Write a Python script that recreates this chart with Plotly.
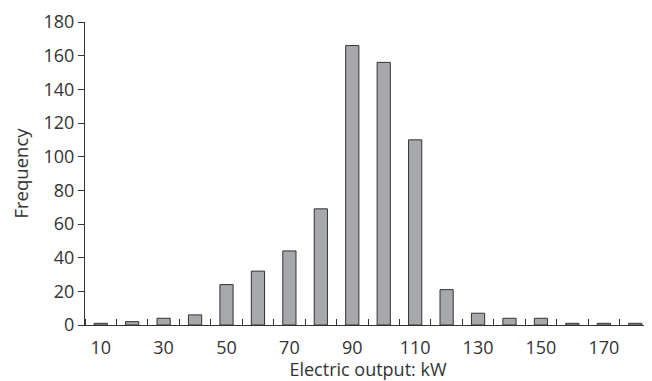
import plotly.graph_objects as go

bin_centers = [10, 20, 30, 40, 50, 60, 70, 80, 90, 100, 110, 120, 130, 140, 150, 160, 170, 180]
frequency = [1, 2, 4, 6, 24, 32, 44, 69, 166, 156, 110, 21, 7, 4, 4, 1, 1, 1]
x_tick_labels = [10, 30, 50, 70, 90, 110, 130, 150, 170]
y_tick_labels = [0, 20, 40, 60, 80, 100, 120, 140, 160, 180]

font_family = "Open Sans, DejaVu Sans, sans-serif"
text_color = "#333333"

fig = go.Figure()
fig.add_trace(go.Bar(
    x=bin_centers,
    y=frequency,
    width=[4.2] * len(bin_centers),
    marker=dict(color="#a7a8ab", line=dict(color="#333333", width=1)),
    showlegend=False,
))

# page has an 8px body margin, so the figure is 8px smaller and offset
fig.update_layout(
    width=644, height=373,
    margin=dict(l=77, r=1, t=14, b=56, autoexpand=False),
    paper_bgcolor="white", plot_bgcolor="white",
    font=dict(family=font_family, size=18, color=text_color),
)
fig.update_xaxes(
    range=[5, 185],
    tickmode="array", tickvals=x_tick_labels, ticktext=[str(v) for v in x_tick_labels],
    ticks="", showgrid=False, zeroline=False,
    showline=True, linecolor="#333333", linewidth=1,
    minor=dict(tick0=15, dtick=10, ticks="inside", ticklen=6, tickcolor="#333333", tickwidth=1, showgrid=False),
    title=dict(text="Electric output: kW", font=dict(size=18), standoff=3),
    tickfont=dict(size=18),
    ticklabelstandoff=6,
    automargin=False,
)
fig.update_yaxes(
    range=[0, 180],
    tickmode="array", tickvals=y_tick_labels,
    ticks="outside", ticklen=6, tickcolor="#333333", tickwidth=1,
    showgrid=False, zeroline=False,
    showline=True, linecolor="#333333", linewidth=1,
    title=dict(text="Frequency", font=dict(size=18.5), standoff=11),
    tickfont=dict(size=18),
    automargin=False,
)

fig.write_html("out.html")
